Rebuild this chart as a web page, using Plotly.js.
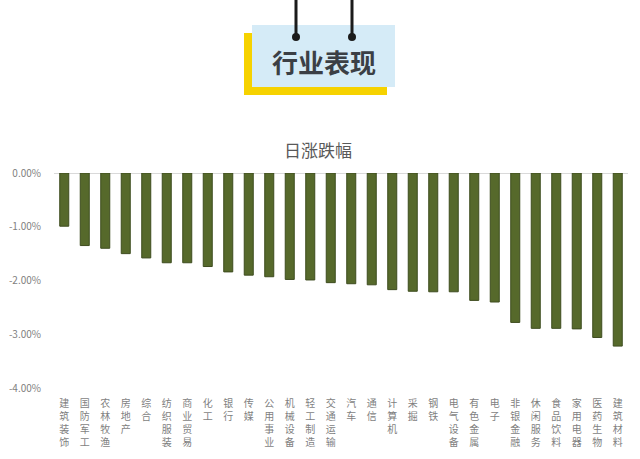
<!DOCTYPE html>
<html>
<head>
<meta charset="utf-8">
<script src="https://cdn.plot.ly/plotly-3.0.1.min.js"></script>
<style>
  html, body { margin: 0; padding: 0; background: #fff; }
  #chart { width: 640px; height: 459px; }
</style>
</head>
<body>
<div id="chart"></div>
<script>
// industries (SW level 1) and daily change in %
var industries = ['建筑装饰', '国防军工', '农林牧渔', '房地产', '综合', '纺织服装', '商业贸易',
    '化工', '银行', '传媒', '公用事业', '机械设备', '轻工制造', '交通运输', '汽车', '通信',
    '计算机', '采掘', '钢铁', '电气设备', '有色金属', '电子', '非银金融', '休闲服务',
    '食品饮料', '家用电器', '医药生物', '建筑材料'];
var changes = [-0.99, -1.35, -1.40, -1.50, -1.58, -1.67, -1.67, -1.74, -1.84, -1.90,
    -1.93, -1.98, -1.99, -2.04, -2.06, -2.08, -2.17, -2.20, -2.21, -2.21, -2.37, -2.40,
    -2.78, -2.89, -2.89, -2.90, -3.06, -3.22];
var yTickVals = [0, -1, -2, -3, -4];
var yTickText = ['0.00%', '-1.00%', '-2.00%', '-3.00%', '-4.00%'];

// plot area in pixels, used to place the header decoration
var W = 640, H = 459;
var M = {l: 54, r: 12, t: 173, b: 71};
function px(x) { return (x - M.l) / (W - M.l - M.r); }
function py(y) { return (H - M.b - y) / (H - M.t - M.b); }

function rect(x0, y0, x1, y1, color) {
    return {type: 'rect', xref: 'paper', yref: 'paper', layer: 'above',
        x0: px(x0), x1: px(x1), y0: py(y1), y1: py(y0),
        fillcolor: color, line: {width: 0}};
}
function line(x, y0, y1) {
    return {type: 'line', xref: 'paper', yref: 'paper', layer: 'above',
        x0: px(x), x1: px(x), y0: py(y1), y1: py(y0),
        line: {color: '#1b1b1b', width: 3}};
}
function dot(x, y, r) {
    return {type: 'circle', xref: 'paper', yref: 'paper', layer: 'above',
        x0: px(x - r), x1: px(x + r), y0: py(y + r), y1: py(y - r),
        fillcolor: '#1b1b1b', line: {width: 0}};
}

var vertical = industries.map(function (s) { return s.split('').join('<br>'); });

var trace = {
    type: 'bar',
    x: industries,
    y: changes,
    marker: {color: '#56692b', line: {color: '#3e4c1f', width: 1}},
    hoverinfo: 'x+y'
};

var layout = {
    width: W, height: H,
    margin: M,
    paper_bgcolor: '#fff',
    plot_bgcolor: '#fff',
    showlegend: false,
    bargap: 0.56,
    font: {family: '"Noto Sans CJK SC", "Noto Sans", sans-serif', color: '#7f7f7f'},
    title: {
        text: '日涨跌幅',
        font: {size: 17, color: '#595959'},
        x: 318 / W, xanchor: 'center',
        y: 1 - 151 / H, yanchor: 'middle', yref: 'container'
    },
    xaxis: {
        type: 'category',
        tickvals: industries,
        ticktext: vertical,
        tickangle: 0,
        tickfont: {size: 10, color: '#7f7f7f'},
        ticks: 'outside', ticklen: 6, tickcolor: 'rgba(0,0,0,0)',
        showgrid: false, showline: false, zeroline: false
    },
    yaxis: {
        range: [-4, 0],
        tickvals: yTickVals,
        ticktext: yTickText,
        tickfont: {size: 10, color: '#7f7f7f'},
        ticks: 'outside', ticklen: 10, tickcolor: 'rgba(0,0,0,0)',
        showgrid: false, showline: false,
        zeroline: true, zerolinecolor: '#d9d9d9', zerolinewidth: 1
    },
    shapes: [
        rect(244, 33, 387, 95, '#f6d200'),
        rect(252, 25, 395, 87, '#d5ebf7'),
        line(296, 0, 37),
        line(352, 0, 37),
        dot(296, 37, 4),
        dot(352, 37, 4)
    ],
    annotations: [{
        xref: 'paper', yref: 'paper',
        x: px(324), y: py(61), xanchor: 'center', yanchor: 'middle',
        text: '<b>行业表现</b>', showarrow: false,
        font: {size: 26, color: '#3b3f45'}
    }]
};

Plotly.newPlot('chart', [trace], layout, {displayModeBar: false, staticPlot: true});
</script>
</body>
</html>
